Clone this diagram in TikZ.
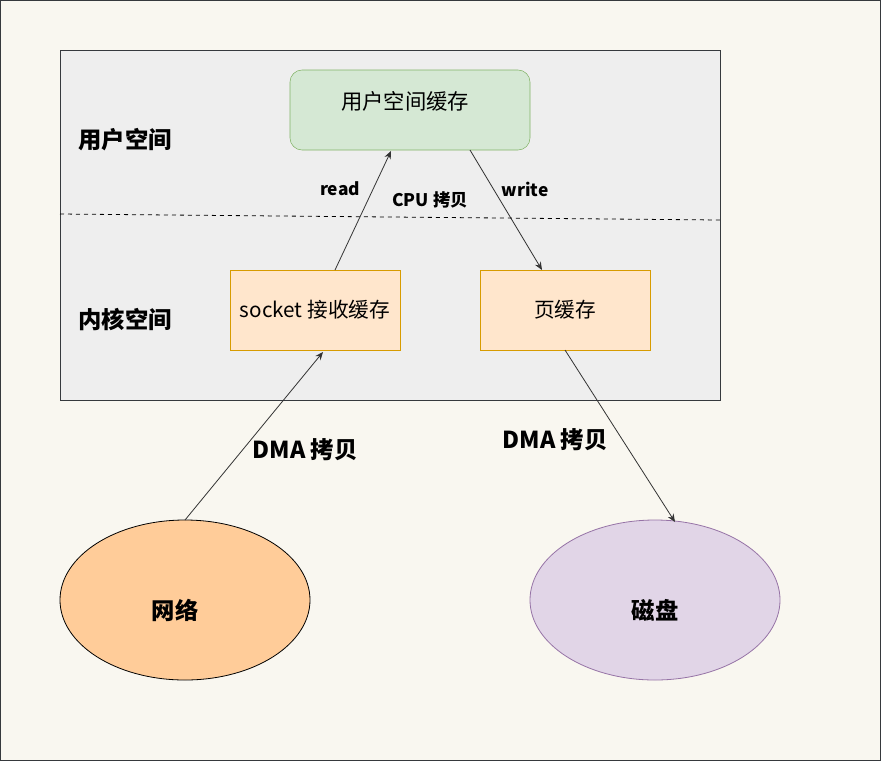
\documentclass[tikz,border=0pt]{standalone}
\usepackage{fontspec}
\setmainfont{Noto Sans CJK SC}
\usetikzlibrary{shapes.geometric,arrows.meta}
\definecolor{pagebg}{HTML}{F9F7F0}
\definecolor{panelbg}{HTML}{EEEEEE}
\definecolor{panelln}{HTML}{36393D}
\definecolor{greenf}{HTML}{D5E8D4}
\definecolor{greenl}{HTML}{82B366}
\definecolor{orangef}{HTML}{FFE6CC}
\definecolor{orangel}{HTML}{D79B00}
\definecolor{netf}{HTML}{FFCC99}
\definecolor{purf}{HTML}{E1D5E7}
\definecolor{purl}{HTML}{9673A6}
\definecolor{arr}{HTML}{333333}
\tikzset{
  box/.style={draw=orangel, fill=orangef, minimum width=127.5pt, minimum height=60pt, inner sep=0pt, font=\fontsize{15.5}{17}\selectfont},
  conn/.style={draw=arr, line width=0.6pt, -{Stealth[length=6pt,width=5pt]}},
  bl/.style={font=\bfseries\fontsize{17.5}{19}\selectfont},
  sl/.style={font=\bfseries\fontsize{13}{15}\selectfont},
}
\begin{document}
\begin{tikzpicture}[x=0.75pt,y=-0.75pt]
\useasboundingbox (0,0) rectangle (881,761);
\fill[pagebg] (0,0) rectangle (881,761);
\draw[panelln, line width=0.75pt] (0.5,0.5) rectangle (880.5,760.5);
\draw[panelln, fill=panelbg, line width=0.75pt] (60,50) rectangle (720,400);
\draw[dashed, line width=0.6pt] (60,214) -- (720,220);
\node[draw=greenl, fill=greenf, rounded corners=9pt, minimum width=180pt, minimum height=60pt, inner sep=0pt] (user) at (410,110) {};
\node[font=\fontsize{16}{18}\selectfont] (usertxt) at (405,101) {用户空间缓存};
\node[box] (sock) at (315,310) {socket 接收缓存};
\node[box] (page) at (565,310) {页缓存};
\node[ellipse, draw=black, fill=netf, minimum width=187.5pt, minimum height=120pt, inner sep=0pt, line width=0.6pt] (net) at (185,600) {};
\node[bl] at (175,610) {网络};
\node[ellipse, draw=purl, fill=purf, minimum width=187.5pt, minimum height=120pt, inner sep=0pt, line width=0.6pt] (disk) at (655,600) {};
\node[bl] at (655,610) {磁盘};
\node[bl] (lu) at (125,140) {用户空间};
\node[bl] (lk) at (125,320) {内核空间};
\node[sl] (lread) at (340,189) {read};
\node[sl] (lcpu) at (430,200) {CPU 拷贝};
\node[sl] (lwrite) at (525,189) {write};
\node[bl] (ldma1) at (305,450) {DMA 拷贝};
\node[bl] (ldma2) at (555,440) {DMA 拷贝};
\coordinate (a1s) at (185,520);
\coordinate (a1e) at (323,352);
\coordinate (a2s) at (335,270);
\coordinate (a2e) at (391,151);
\coordinate (a3s) at (470,150);
\coordinate (a3e) at (542,270);
\coordinate (a4s) at (565,350);
\coordinate (a4e) at (675,522);
\draw[conn] (a1s) -- (a1e);
\draw[conn] (a2s) -- (a2e);
\draw[conn] (a3s) -- (a3e);
\draw[conn] (a4s) -- (a4e);
\end{tikzpicture}
\end{document}
